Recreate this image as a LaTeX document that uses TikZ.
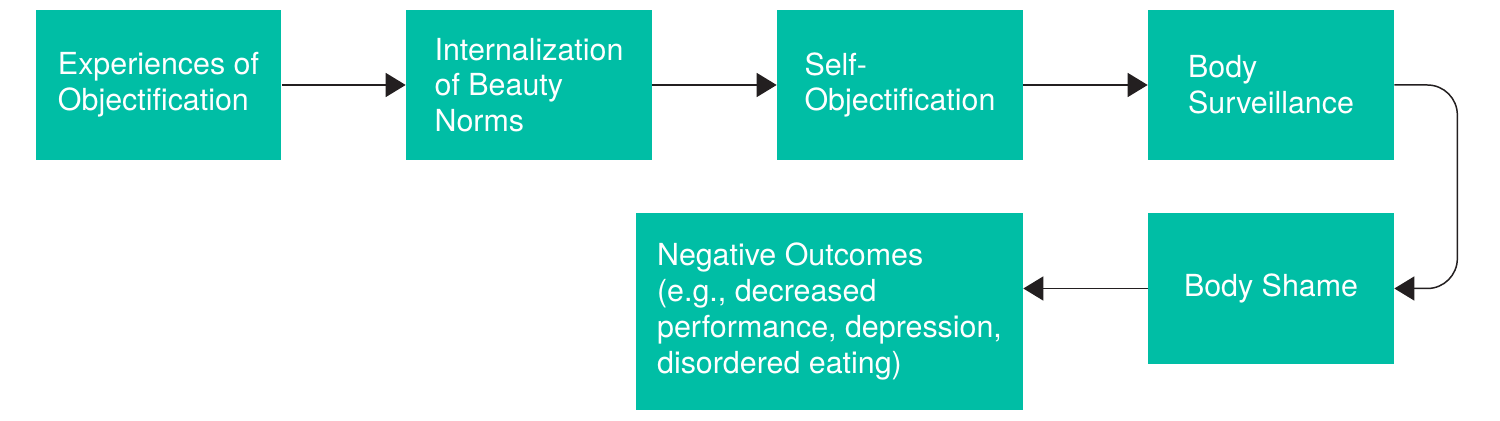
\documentclass[tikz,border=0pt]{standalone}
\usepackage{fontspec}
\setmainfont{TeX Gyre Heros}
\usetikzlibrary{arrows.meta,positioning}
\definecolor{objteal}{RGB}{0,190,165}
\definecolor{arrowdark}{RGB}{35,31,32}

\tikzset{
  stage/.style={fill=objteal, text=white, align=left, inner sep=0pt,
    minimum width=4.92cm, minimum height=3cm,
    font=\fontsize{17.3}{20.4}\selectfont},
  flow/.style={draw=arrowdark, line width=0.85pt,
    -{Triangle[length=0.4cm,width=0.48cm]}}
}

\begin{document}
\begin{tikzpicture}[x=0.02cm, y=-0.02cm]
        \useasboundingbox (0,0) rectangle (1500,421);
        % top row
        \node[stage] (exper) at (158.5,85) {Experiences of\\Objectification};
        \node[stage] (intern) at (529,85) {Internalization\\of Beauty\\Norms};
        \node[stage] (selfobj) at (900,85) {Self-\\Objectification};
        \node[stage] (surv) at (1271,85) {Body\\Surveillance};
        % bottom row
        \node[stage, minimum height=3.02cm] (shame) at (1271,288.5) {Body Shame};
        \node[stage, minimum width=7.74cm, minimum height=3.94cm] (neg) at (829.5,311.5)
          {Negative Outcomes\\(e.g., decreased\\performance, depression,\\disordered eating)};

        \draw[flow] (exper) -- (intern);
        \draw[flow] (intern) -- (selfobj);
        \draw[flow] (selfobj) -- (surv);
        \draw[flow, rounded corners=0.6cm] (surv.east) -- ++(63,0) |- (shame.east);
        \draw[flow] (shame.west) -- (shame.west -| neg.east);
      \end{tikzpicture}
\end{document}
